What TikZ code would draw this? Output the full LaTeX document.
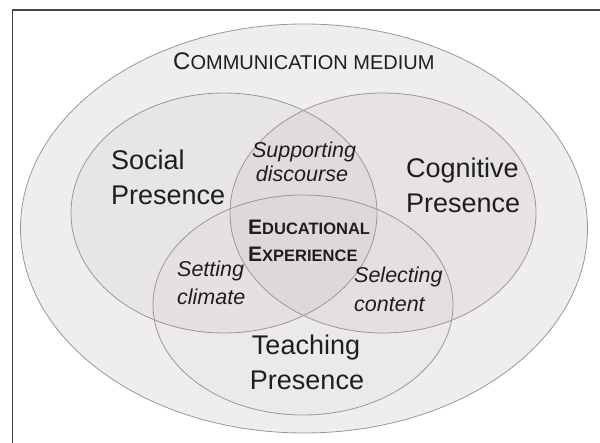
\documentclass[tikz,border=0pt]{standalone}
\usepackage{fontspec}
\setmainfont{Liberation Sans}
\definecolor{outerfill}{RGB}{239,237,237}
\definecolor{shade}{RGB}{120,100,100}
\definecolor{rim}{RGB}{158,150,150}
\definecolor{frame}{RGB}{70,70,70}
\definecolor{ink}{RGB}{30,30,30}
\tikzset{
  rimline/.style={draw=rim, line width=0.8pt},
  setfill/.style={fill=shade, fill opacity=#1},
  big/.style={font=\fontsize{27}{27}\selectfont, text=ink, inner sep=0pt},
  ital/.style={font=\fontsize{21.5}{21.5}\selectfont\itshape, text=ink, inner sep=0pt},
  capt/.style={text=ink, inner sep=0pt}
}
\begin{document}
\begin{tikzpicture}[x=1pt,y=-1pt]
\useasboundingbox (0,0) rectangle (600,443);
% frame
\draw[frame, line width=1.3pt] (12.5,443) -- (12.5,10) -- (600,10);
% outer medium
\fill[outerfill] (304,228.5) ellipse [x radius=283.5, y radius=204.5];
% three presences
\fill[setfill=0.055] (224,213) ellipse [x radius=153, y radius=120];
\fill[setfill=0.065] (383,213) ellipse [x radius=153, y radius=120];
\fill[setfill=0.025] (303,305) ellipse [x radius=150, y radius=110];
% outlines
\draw[rimline] (304,228.5) ellipse [x radius=283.5, y radius=204.5];
\draw[rimline] (224,213) ellipse [x radius=153, y radius=120];
\draw[rimline] (383,213) ellipse [x radius=153, y radius=120];
\draw[rimline] (303,305) ellipse [x radius=150, y radius=110];
% texts
\node[capt, anchor=base west] (medium) at (173,70)
  {{\fontsize{24}{24}\selectfont C}{\fontsize{20}{20}\selectfont OMMUNICATION MEDIUM}};
\node[big, anchor=base west] (social1) at (111,170) {Social};
\node[big, anchor=base west] (social2) at (111,205) {Presence};
\node[big, anchor=base west] (cog1) at (406,178) {Cognitive};
\node[big, anchor=base west] (cog2) at (406,213) {Presence};
\node[big, anchor=base] (teach1) at (306,355) {Teaching};
\node[big, anchor=base] (teach2) at (307,390) {Presence};
\node[ital, anchor=base] (sup1) at (304,158) {Supporting};
\node[ital, anchor=base] (sup2) at (302,182) {discourse};
\node[ital, anchor=base west] (set1) at (177,277) {Setting};
\node[ital, anchor=base west] (set2) at (177,305) {climate};
\node[ital, anchor=base west] (sel1) at (354,283) {Selecting};
\node[ital, anchor=base west] (sel2) at (354,312) {content};
\node[capt, anchor=base west, font=\bfseries] (edu1) at (248,235)
  {{\fontsize{21}{21}\selectfont E}{\fontsize{16.5}{16.5}\selectfont DUCATIONAL}};
\node[capt, anchor=base west, font=\bfseries] (edu2) at (248,262)
  {{\fontsize{21}{21}\selectfont E}{\fontsize{16.5}{16.5}\selectfont XPERIENCE}};
\end{tikzpicture}
\end{document}
